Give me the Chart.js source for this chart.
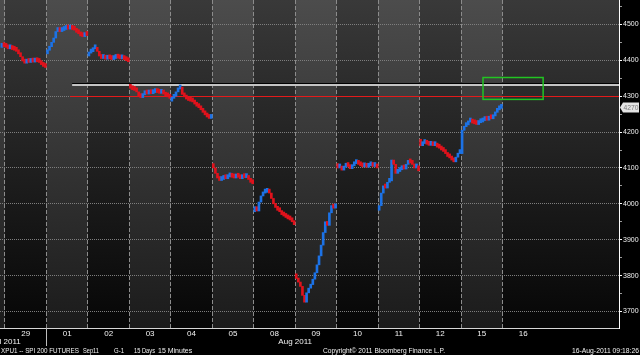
<!DOCTYPE html>
<html>
<head>
<meta charset="utf-8">
<title>SPI 200 Futures - 15 Minutes</title>
<script src="https://cdn.jsdelivr.net/npm/chart.js@4.4.1/dist/chart.umd.min.js"></script>
<style>
  html, body { margin: 0; padding: 0; background: #000; }
  #wrap { position: relative; width: 640px; height: 355px; }
</style>
</head>
<body>
<div id="wrap"><canvas id="spiChart" width="640" height="355"></canvas></div>
<script>
/*
  SPI 200 futures (XPU1), 15 minute bars over 15 days
  - each day list starts with the open, then the close of every bar
  - up bars blue, down bars red
*/

const dayLabels = ['29', '01', '02', '03', '04', '05', '08', '09', '10', '11', '12', '15', '16'];

const jul28 = [4436, 4442, 4438];
const jul29 = [4438, 4436, 4432, 4435, 4430, 4428, 4425, 4418, 4410, 4398, 4392, 4396, 4394, 4398, 4395, 4400, 4396, 4394, 4388, 4383, 4380];
const aug01 = [4418, 4428, 4438, 4450, 4462, 4480, 4486, 4480, 4483, 4486, 4488, 4487, 4489, 4486, 4484, 4478, 4474, 4468, 4466, 4470, 4469];
const aug02 = [4412, 4420, 4424, 4432, 4436, 4425, 4412, 4405, 4406, 4403, 4405, 4404, 4402, 4405, 4407, 4406, 4404, 4406, 4402, 4399, 4396];
const aug03 = [4332, 4322, 4318, 4316, 4312, 4300, 4296, 4304, 4308, 4306, 4309, 4307, 4310, 4312, 4310, 4308, 4311, 4306, 4300, 4298, 4294];
const aug04 = [4286, 4294, 4300, 4312, 4320, 4325, 4305, 4298, 4292, 4288, 4286, 4284, 4278, 4272, 4268, 4262, 4255, 4248, 4242, 4238, 4246];
const aug05 = [4112, 4100, 4085, 4072, 4065, 4068, 4072, 4070, 4075, 4079, 4074, 4072, 4077, 4074, 4070, 4075, 4073, 4077, 4068, 4060, 4056];
const aug08 = [3978, 3992, 3980, 4005, 4022, 4030, 4032, 4037, 4030, 4015, 4000, 3990, 3982, 3978, 3970, 3966, 3962, 3958, 3955, 3950, 3942];
const aug09 = [3805, 3792, 3782, 3770, 3745, 3726, 3752, 3765, 3775, 3790, 3808, 3830, 3855, 3885, 3920, 3950, 3940, 3975, 3995, 3988, 4000];
const aug10 = [4112, 4100, 4104, 4094, 4102, 4108, 4104, 4098, 4106, 4112, 4117, 4110, 4106, 4103, 4108, 4102, 4106, 4110, 4104, 4107, 4100];
const aug11 = [3982, 3995, 4030, 4050, 4044, 4060, 4064, 4122, 4110, 4085, 4090, 4095, 4100, 4097, 4110, 4118, 4114, 4110, 4100, 4106, 4092];
const aug12 = [4180, 4162, 4168, 4172, 4166, 4163, 4168, 4162, 4165, 4158, 4155, 4150, 4146, 4140, 4132, 4128, 4122, 4117, 4130, 4140, 4145];
const aug15 = [4140, 4205, 4215, 4220, 4228, 4230, 4225, 4223, 4221, 4226, 4228, 4232, 4236, 4233, 4240, 4237, 4245, 4255, 4262, 4266, 4272];

// jul28 is day index -1 (only its tail is on screen)
const sessions = [jul28, jul29, aug01, aug02, aug03, aug04, aug05, aug08, aug09, aug10, aug11, aug12, aug15];

const yTicks = [3700, 3800, 3900, 4000, 4100, 4200, 4300, 4400, 4500];
const levelLines = [4330, 4300];
const lastPrice = 4270;

const BARS_PER_DAY = 20;
const UP = '#1c72e6';
const DOWN = '#e0121c';
const FONT = 'Liberation Sans, Arial, sans-serif';

// --- Build bars ---
const bars = [];
sessions.forEach((day, k) => {
  const dayIdx = k - 1;
  const n = day.length - 1;
  const start = dayIdx + (BARS_PER_DAY - n) / BARS_PER_DAY;
  for (let i = 0; i < n; i++) {
    bars.push({ x: start + (i + 0.5) / BARS_PER_DAY, y: [day[i], day[i + 1]] });
  }
});

// minor ticks every 50 for the right axis
const yAllTicks = [];
yTicks.forEach(v => { yAllTicks.push(v); yAllTicks.push(v + 50); });

// --- Plugins ---
const backdrop = {
  id: 'backdrop',
  beforeDraw(chart) {
    const { ctx, chartArea: a, scales: { x } } = chart;
    ctx.save();
    ctx.fillStyle = '#000';
    ctx.fillRect(0, 0, chart.width, chart.height);

    const dark = ctx.createLinearGradient(0, a.top, 0, a.bottom);
    dark.addColorStop(0, '#393939');
    dark.addColorStop(1, '#060606');
    ctx.fillStyle = dark;
    ctx.fillRect(a.left, a.top, a.width, a.height);

    // lighter stripe on every other trading day
    const light = ctx.createLinearGradient(0, a.top, 0, a.bottom);
    light.addColorStop(0, '#4c4c4c');
    light.addColorStop(1, '#1b1b1b');
    ctx.fillStyle = light;
    for (let d = -1; d < sessions.length - 1; d++) {
      if (Math.abs(d) % 2 !== 1) continue;
      const x0 = Math.max(a.left, x.getPixelForValue(d));
      const x1 = Math.min(a.right, x.getPixelForValue(d + 1));
      ctx.fillRect(x0, a.top, x1 - x0, a.height);
    }
    ctx.restore();
  }
};

const annotations = {
  id: 'annotations',
  beforeDatasetsDraw(chart) {
    const { ctx, chartArea: a, scales: { x, y } } = chart;
    ctx.save();
    // grey resistance line with a dark shadow
    const yw = Math.round(y.getPixelForValue(levelLines[0]));
    const xw = x.getPixelForValue(1.62);
    ctx.fillStyle = '#000';
    ctx.fillRect(xw, yw - 2, a.right - xw, 1);
    ctx.fillStyle = '#c4c4c4';
    ctx.fillRect(xw, yw - 1, a.right - xw, 2);
    // red line
    const yr = Math.round(y.getPixelForValue(levelLines[1]));
    const xr = x.getPixelForValue(1.57);
    ctx.fillStyle = '#e41a1a';
    ctx.fillRect(xr, yr, a.right - xr, 1);
    ctx.restore();
  },
  afterDatasetsDraw(chart) {
    const { ctx, scales: { x, y } } = chart;
    ctx.save();
    ctx.strokeStyle = '#22c422';
    ctx.lineWidth = 1.5;
    const bx0 = x.getPixelForValue(11.53), bx1 = x.getPixelForValue(12.98);
    const by0 = y.getPixelForValue(4352), by1 = y.getPixelForValue(4291);
    ctx.strokeRect(bx0, by0, bx1 - bx0, by1 - by0);
    ctx.restore();
  },
  afterDraw(chart) {
    const { ctx, chartArea: a, scales: { x, y } } = chart;
    ctx.save();
    ctx.fillStyle = '#f2f2f2';
    ctx.textBaseline = 'middle';

    // day labels
    ctx.font = '8px ' + FONT;
    ctx.textAlign = 'center';
    dayLabels.forEach((lab, i) => ctx.fillText(lab, x.getPixelForValue(i + 0.5), a.bottom + 6));

    // months
    ctx.fillText('Jul 2011', x.getPixelForValue(0) + 1, a.bottom + 14);
    ctx.fillText('Aug 2011', x.getPixelForValue(7), a.bottom + 14);
    ctx.fillStyle = '#bdbdbd';
    ctx.fillRect(Math.round(x.getPixelForValue(1)), a.bottom, 1, 18);

    // footer (squeezed to the terminal's narrow font)
    ctx.fillStyle = '#f2f2f2';
    ctx.font = '7px ' + FONT;
    ctx.textAlign = 'left';
    const fy = a.bottom + 23;
    ctx.fillText('XPU1 -- SPI 200 FUTURES', 1, fy, 78);
    ctx.fillText('Sep11', 83, fy, 16);
    ctx.fillText('G-1', 114, fy, 10);
    ctx.fillText('15 Days', 134, fy, 21);
    ctx.fillText('15 Minutes', 158, fy, 37);
    ctx.fillText('Copyright\u00a9 2011 Bloomberg Finance L.P.', 323, fy, 122);
    ctx.fillText('16-Aug-2011 09:18:26', 572, fy, 67);

    // last price marker
    const yp = Math.round(y.getPixelForValue(lastPrice)) + 0.5;
    const xp = a.right + 1;
    ctx.beginPath();
    ctx.moveTo(xp, yp);
    ctx.lineTo(xp + 3, yp - 5);
    ctx.lineTo(xp + 19, yp - 5);
    ctx.lineTo(xp + 19, yp + 5);
    ctx.lineTo(xp + 3, yp + 5);
    ctx.closePath();
    ctx.fillStyle = '#e4e4e4';
    ctx.fill();
    ctx.fillStyle = '#7a7a7a';
    ctx.textAlign = 'center';
    ctx.fillText(String(lastPrice), xp + 11, yp + 0.5, 15);
    ctx.restore();
  }
};

// --- Chart ---
const ctx = document.getElementById('spiChart').getContext('2d');
new Chart(ctx, {
  type: 'bar',
  data: {
    datasets: [{
      data: bars,
      barThickness: 2,
      minBarLength: 4,
      borderWidth: 0,
      backgroundColor: c => (c.raw && c.raw.y[1] >= c.raw.y[0]) ? UP : DOWN
    }]
  },
  options: {
    responsive: false,
    animation: false,
    layout: { padding: 0 },
    plugins: { legend: { display: false }, tooltip: { enabled: false } },
    scales: {
      x: {
        type: 'linear',
        min: -0.12,
        max: 14.81,
        offset: false,
        afterBuildTicks: s => { s.ticks = dayLabels.map((_, i) => ({ value: i })); },
        afterFit: s => { s.height = 27; },
        ticks: { display: false },
        grid: { offset: false, color: '#8c8c8c', lineWidth: 1, drawTicks: false },
        border: { display: true, color: '#d6d6d6', width: 1, dash: [4, 2] }
      },
      y: {
        position: 'right',
        min: 3654,
        max: 4568,
        afterBuildTicks: s => { s.ticks = yAllTicks.map(v => ({ value: v })); },
        afterFit: s => { s.width = 21; s.paddingTop = 0; s.paddingBottom = 0; },
        ticks: {
          autoSkip: false,
          color: '#f2f2f2',
          padding: 1,
          font: { family: FONT, size: 7 },
          callback: v => yTicks.includes(v) ? String(v) : ''
        },
        grid: {
          color: c => (c.tick && yTicks.includes(c.tick.value)) ? '#7e7e7e' : 'transparent',
          tickColor: c => (c.tick && yTicks.includes(c.tick.value)) ? '#ffffff' : '#9a9a9a',
          tickLength: 3,
          lineWidth: 1
        },
        border: { display: true, color: '#ffffff', width: 1, dash: [1, 1] }
      }
    }
  },
  plugins: [backdrop, annotations]
});
</script>
</body>
</html>
